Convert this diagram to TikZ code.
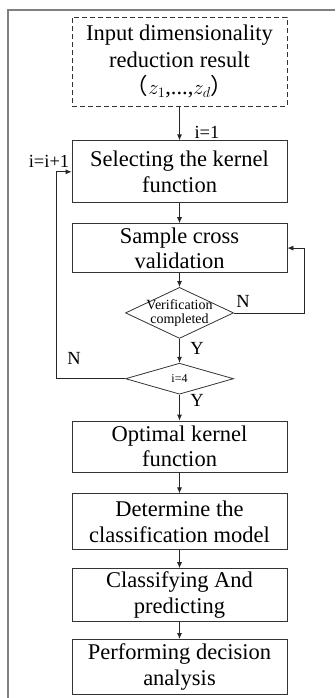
\documentclass[tikz,border=0pt]{standalone}
\usepackage{fontspec}
\setmainfont{Liberation Serif}
\newfontfamily\cjk{Noto Sans CJK SC}
\usetikzlibrary{positioning,shapes.geometric,arrows.meta}

\tikzset{
  procbox/.style={draw=black!80, line width=0.8pt, minimum width=215pt, align=center, inner sep=2pt, font=\fontsize{22.5}{25.5}\selectfont},
  decision/.style={draw=black!80, line width=0.8pt, diamond, minimum width=108pt, inner sep=0pt},
  flow/.style={draw=black!85, line width=0.8pt, -{Latex[length=6pt,width=5pt]}},
  lbl/.style={font=\fontsize{18.5}{18.5}\selectfont, inner sep=0pt},
}

\begin{document}
\begin{tikzpicture}[x=1pt,y=1pt]
  \useasboundingbox (0,0) rectangle (335,-698);
  % outer frame
  \draw[gray, line width=1.3pt] (335,-10) -- (8,-10) -- (8,-698);

  % main column
  \node[procbox, dash pattern=on 5pt off 3pt, minimum height=89pt, font=\fontsize{22.5}{27}\selectfont] (input) at (179.5,-61.5) {Input dimensionality\\reduction result\\{\cjk （}$z_1$,...,$z_d${\cjk ）}};
  \node[procbox, minimum height=62pt, below=34pt of input] (kernel) {Selecting the kernel\\function};
  \node[procbox, minimum height=49pt, below=20pt of kernel] (cross) {Sample cross\\validation};
  \node[decision, minimum height=51pt, below=14pt of cross,
        label={[font=\fontsize{14}{14}\selectfont, align=center]center:{Verification\\completed}}] (verify) {};
  \node[decision, minimum height=31pt, below=24pt of verify,
        label={[font=\fontsize{12}{12}\selectfont]center:i=4}] (count) {};
  \node[procbox, minimum height=51pt, below=26pt of count] (optimal) {Optimal kernel\\function};
  \node[procbox, minimum height=56pt, below=21pt of optimal] (model) {Determine the\\classification model};
  \node[procbox, minimum height=53pt, below=18pt of model] (classify) {Classifying And\\predicting};
  \node[procbox, minimum height=55pt, below=17pt of classify] (decide) {Performing decision\\analysis};

  % arrows
  \draw[flow] (input) -- (kernel);
  \draw[flow] (kernel) -- (cross);
  \draw[flow] (cross) -- (verify);
  \draw[flow] (verify) -- (count);
  \draw[flow] (count) -- (optimal);
  \draw[flow] (optimal) -- (model);
  \draw[flow] (model) -- (classify);
  \draw[flow] (classify) -- (decide);

  % loops
  \draw[flow] (verify.east) -- ++(70,0) |- (cross.east);
  \draw[flow] (count.west) -- ++(-69,0) |- (kernel.west);

  % labels
  \node[lbl] (first) at (207,-132) {i=1};
  \node[lbl] (next) at (49,-161) {i=i+1};
  \node[lbl] (nverify) at (243,-301) {N};
  \node[lbl] (yverify) at (197,-348) {Y};
  \node[lbl] (ncount) at (74,-358) {N};
  \node[lbl] (ycount) at (197,-400) {Y};
\end{tikzpicture}
\end{document}
